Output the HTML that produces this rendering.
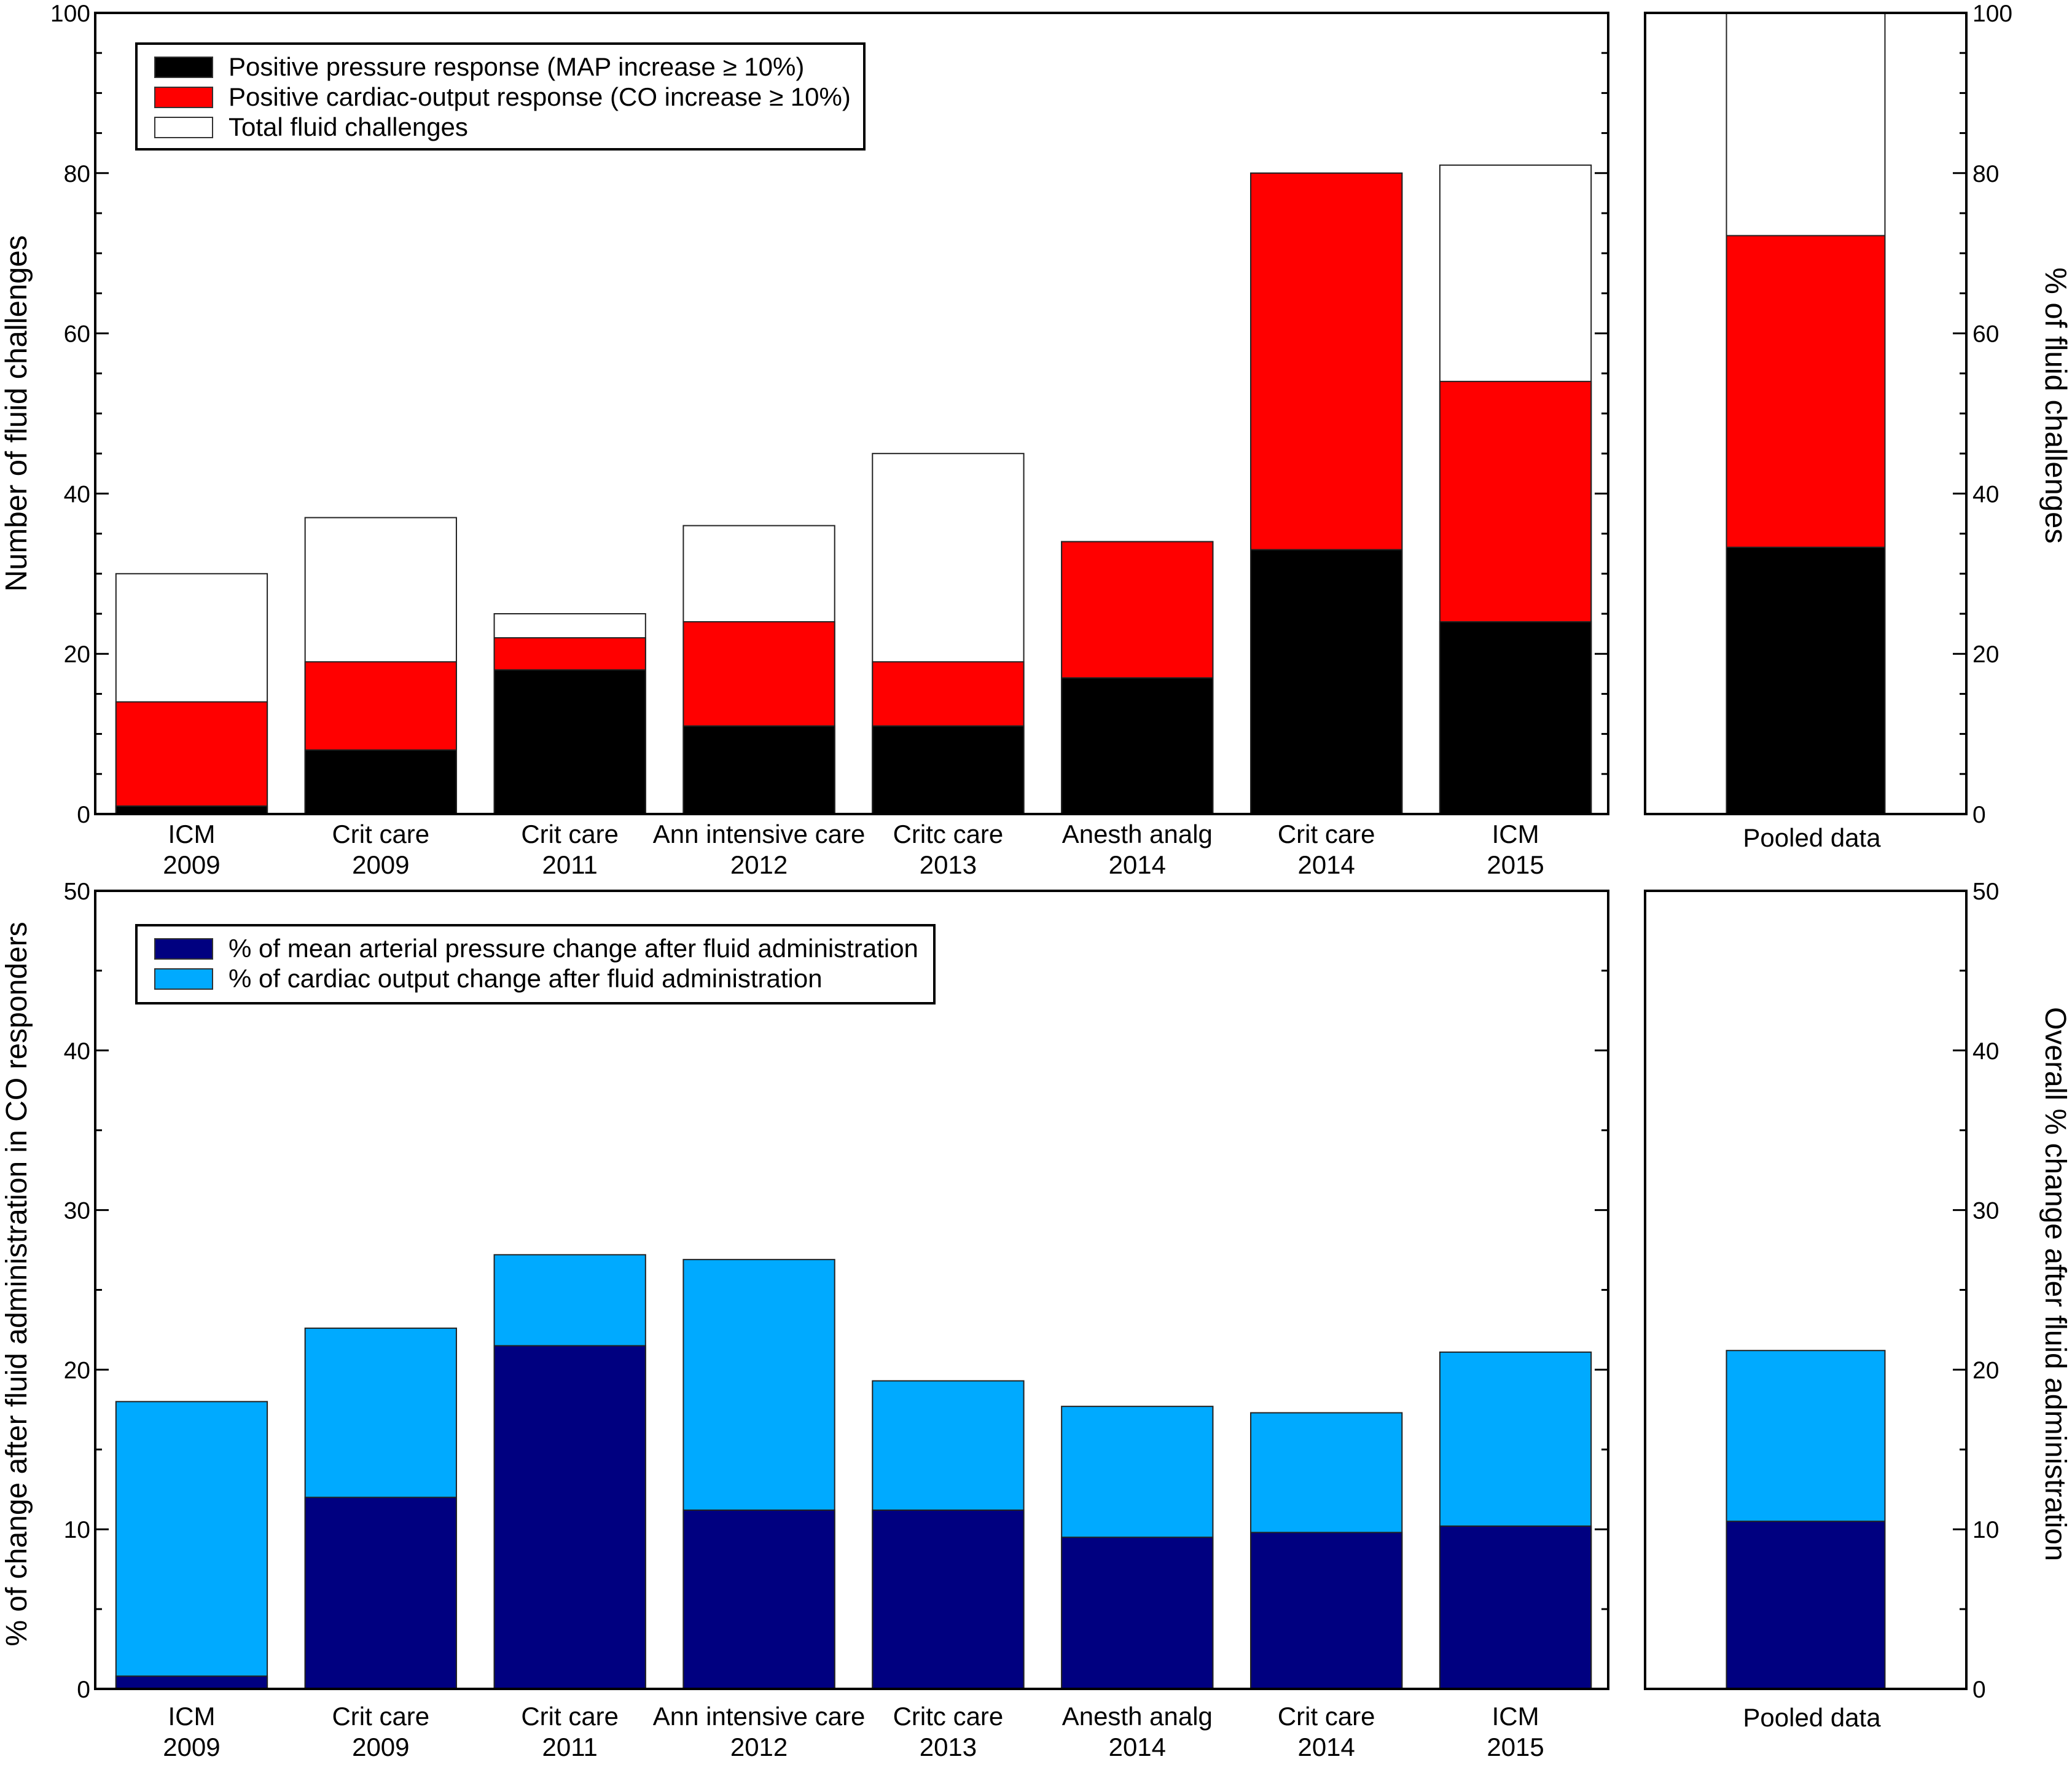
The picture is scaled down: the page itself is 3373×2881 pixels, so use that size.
<!DOCTYPE html>
<html><head><meta charset="utf-8"><style>
html,body{margin:0;padding:0;background:#fff;}
svg{display:block;font-family:"Liberation Sans",Arial,sans-serif;}
</style></head><body>
<svg id="c" width="3373" height="2881" viewBox="0 0 3373 2881" xmlns="http://www.w3.org/2000/svg"></svg>
<script>
const categories1 = ["ICM", "Crit care", "Crit care", "Ann intensive care", "Critc care", "Anesth analg", "Crit care", "ICM"];
const categories2 = ["2009", "2009", "2011", "2012", "2013", "2014", "2014", "2015"];
const totalChallenges = [30, 37, 25, 36, 45, 34, 80, 81];
const coResponders = [14, 19, 22, 24, 19, 34, 80, 54];
const mapResponders = [1, 8, 18, 11, 11, 17, 33, 24];
const pooledTop = [100, 72.2, 33.3];
const coChange = [18, 22.6, 27.2, 26.9, 19.3, 17.7, 17.3, 21.1];
const mapChange = [0.8, 12, 21.5, 11.2, 11.2, 9.5, 9.8, 10.2];
const pooledBottom = [21.2, 10.5];
const topTicks = [0, 20, 40, 60, 80, 100];
const bottomTicks = [0, 10, 20, 30, 40, 50];

const svg = document.getElementById('c');
const NS = 'http://www.w3.org/2000/svg';
function mk(tag, attrs, parent) {
  const e = document.createElementNS(NS, tag);
  for (const k in attrs) e.setAttribute(k, attrs[k]);
  (parent || svg).appendChild(e);
  return e;
}
const L = 155, R = 2618, PL = 2678, PR = 3201;
const panels = [
  {top: 21, bot: 1325, max: 100, ticks: topTicks, minor: 5},
  {top: 1450, bot: 2749, max: 50, ticks: bottomTicks, minor: 5}
];
function yS(p, v) { return p.bot - v / p.max * (p.bot - p.top); }
const bw = (R - L) / 8;
function xC(i) { return L + 3 + bw * (i + 0.5); }
const pc = (PL + PR) / 2, pw = 258;

function bar(x, w, y0, y1, fill, name) {
  const r = mk('rect', {x: x - w / 2, y: y1, width: w, height: y0 - y1, fill: fill, stroke: '#222', 'stroke-width': 2});
  
  
  return r;
}
function text(x, y, s, size, anchor, name, extra) {
  const t = mk('text', Object.assign({x: x, y: y, 'font-size': size, 'text-anchor': anchor || 'middle', fill: '#000'}, extra || {}));
  t.textContent = s;
  
  
  return t;
}

const p0 = panels[0];
for (let i = 0; i < 8; i++) {
  const w = bw * 0.8;
  bar(xC(i), w, yS(p0, 0), yS(p0, totalChallenges[i]), '#fff', 'bar-total-' + i);
  bar(xC(i), w, yS(p0, 0), yS(p0, coResponders[i]), '#ff0000', 'bar-co-response-' + i);
  bar(xC(i), w, yS(p0, 0), yS(p0, mapResponders[i]), '#000', 'bar-map-response-' + i);
}
bar(pc, pw, yS(p0, 0), yS(p0, pooledTop[0]), '#fff', 'pooled-bar-total');
bar(pc, pw, yS(p0, 0), yS(p0, pooledTop[1]), '#ff0000', 'pooled-bar-co');
bar(pc, pw, yS(p0, 0), yS(p0, pooledTop[2]), '#000', 'pooled-bar-map');

const p1 = panels[1];
for (let i = 0; i < 8; i++) {
  const w = bw * 0.8;
  bar(xC(i), w, yS(p1, 0), yS(p1, coChange[i]), '#00aaff', 'bar-co-change-' + i);
  bar(xC(i), w, yS(p1, 0), yS(p1, mapChange[i]), '#000080', 'bar-map-change-' + i);
}
bar(pc, pw, yS(p1, 0), yS(p1, pooledBottom[0]), '#00aaff', 'pooled-bar-co-change');
bar(pc, pw, yS(p1, 0), yS(p1, pooledBottom[1]), '#000080', 'pooled-bar-map-change');

panels.forEach((p, pi) => {
  const f = mk('rect', {x: L, y: p.top, width: R - L, height: p.bot - p.top, fill: 'none', stroke: '#000', 'stroke-width': 4});
  
  
  const f2 = mk('rect', {x: PL, y: p.top, width: PR - PL, height: p.bot - p.top, fill: 'none', stroke: '#000', 'stroke-width': 4});
  
  
  for (let v = 0; v <= p.max; v += p.minor) {
    const y = yS(p, v);
    const major = p.ticks.indexOf(v) >= 0;
    const len = major ? 22 : 11;
    mk('line', {x1: L, x2: L + len, y1: y, y2: y, stroke: '#000', 'stroke-width': 3});
    mk('line', {x1: R, x2: R - len, y1: y, y2: y, stroke: '#000', 'stroke-width': 3});
    mk('line', {x1: PR, x2: PR - len, y1: y, y2: y, stroke: '#000', 'stroke-width': 3});
  }
  p.ticks.forEach(v => {
    const y = yS(p, v) + 14;
    text(L - 8, y, String(v), 39, 'end', 'y-tick-label-left');
    text(PR + 10, y, String(v), 39, 'start', 'y-tick-label-right');
  });
  const yl1 = pi === 0 ? 1372 : 2808, yl2 = yl1 + 50;
  for (let i = 0; i < 8; i++) {
    text(xC(i), yl1, categories1[i], 42, 'middle', 'x-category-label');
    text(xC(i), yl2, categories2[i], 42, 'middle', 'x-year-label');
  }
  text(pc + 10, pi === 0 ? 1378 : 2810, 'Pooled data', 42, 'middle', 'pooled-x-label');
});

text(0, 0, 'Number of fluid challenges', 49, 'middle', 'top-y-axis-title', {transform: 'translate(43,673) rotate(-90)'});
text(0, 0, '% of change after fluid administration in CO responders', 48, 'middle', 'bottom-y-axis-title', {transform: 'translate(43,2090) rotate(-90)'});
text(0, 0, '% of  fluid challenges', 49, 'middle', 'top-right-axis-title', {transform: 'translate(3330,660) rotate(90)'});
text(0, 0, 'Overall % change after fluid administration', 48, 'middle', 'bottom-right-axis-title', {transform: 'translate(3330,2090) rotate(90)'});

function legend(x, y, w, h, items, name) {
  const g = mk('g', {});
  
  
  mk('rect', {x: x, y: y, width: w, height: h, fill: '#fff', stroke: '#000', 'stroke-width': 4}, g);
  items.forEach((it, k) => {
    const cy = y + 38 + k * 49;
    const s = mk('rect', {x: x + 30, y: cy - 16, width: 94, height: 33, fill: it[1], stroke: '#333', 'stroke-width': 2}, g);
    
    
    const t = mk('text', {x: x + 150, y: cy + 14, 'font-size': 42, fill: '#000'}, g);
    t.textContent = it[0];
    
    
  });
}
legend(222, 71, 1185, 172, [
  ['Positive pressure response (MAP increase \u2265 10%)', '#000'],
  ['Positive cardiac-output response (CO increase \u2265 10%)', '#ff0000'],
  ['Total fluid challenges', '#fff']
], 'top-legend');
legend(222, 1506, 1299, 127, [
  ['% of mean arterial pressure change after fluid administration', '#000080'],
  ['% of cardiac output change after fluid administration', '#00aaff']
], 'bottom-legend');
</script>
</body></html>
